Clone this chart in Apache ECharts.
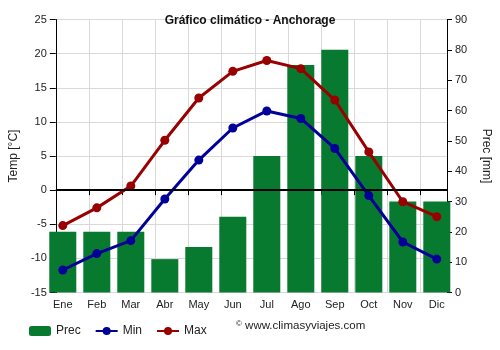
<!DOCTYPE html>
<html>
<head>
<meta charset="utf-8">
<script src="https://cdn.jsdelivr.net/npm/echarts@6/dist/echarts.min.js"></script>
<style>
  html, body { margin: 0; padding: 0; background: #fff; }
  #chart { width: 500px; height: 350px; }
</style>
</head>
<body>
<div id="chart"></div>
<script>
// Monthly climate data for Anchorage
const months = ['Ene', 'Feb', 'Mar', 'Abr', 'May', 'Jun', 'Jul', 'Ago', 'Sep', 'Oct', 'Nov', 'Dic'];
const precipitation = [20, 20, 20, 11, 15, 25, 45, 75, 80, 45, 30, 30];   // mm
const tempMin = [-11.7, -9.3, -7.4, -1.3, 4.4, 9.1, 11.6, 10.5, 6.1, -0.8, -7.6, -10.1]; // °C
const tempMax = [-5.2, -2.6, 0.6, 7.3, 13.5, 17.4, 19.0, 17.8, 13.2, 5.6, -1.7, -3.9];    // °C

const FONT = 'Liberation Sans, Arial, sans-serif';
const TXT = '#222';

const chart = echarts.init(document.getElementById('chart'), null, { renderer: 'canvas' });

const plotTop = 19.5, plotBottom = 57.5;

chart.setOption({
  animation: false,
  backgroundColor: '#fff',
  textStyle: { fontFamily: FONT },
  title: {
    text: 'Gráfico climático - Anchorage',
    left: 'center',
    top: 10,
    textStyle: { fontSize: 12, fontWeight: 'bold', color: '#111', fontFamily: FONT }
  },
  legend: {
    left: 24,
    top: 320,
    itemWidth: 22,
    itemHeight: 10,
    itemGap: 14,
    textStyle: { fontSize: 12, color: '#222', fontFamily: FONT },
    data: ['Prec', 'Min', 'Max']
  },
  graphic: [{
    type: 'text',
    left: 236,
    top: 320,
    style: {
      text: '{c|©} www.climasyviajes.com',
      rich: { c: { fontSize: 8, verticalAlign: 'top', fontFamily: FONT, fill: '#222' } },
      fontSize: 11.5,
      fontFamily: FONT,
      fill: '#222'
    }
  }],
  grid: [
    // frame: axes, ticks and grid lines
    { left: 49.3, right: 49.7, top: plotTop, bottom: plotBottom },
    // data: month slots, bars and lines
    { left: 45.8, right: 46.2, top: plotTop, bottom: plotBottom }
  ],
  xAxis: [
    {
      gridIndex: 0, type: 'value', min: 0, max: 401 / 34, interval: 1,
      axisLine: { show: true, lineStyle: { color: '#000', width: 1 } },
      axisTick: { show: true, length: 5, lineStyle: { color: '#000' } },
      axisLabel: { show: false },
      splitLine: { show: true, lineStyle: { color: '#d9d9d9', width: 1 } }
    },
    {
      gridIndex: 1, type: 'category', data: months, boundaryGap: true,
      axisLine: { show: false }, axisTick: { show: false },
      axisLabel: { margin: 7, fontSize: 11, color: TXT, fontFamily: FONT },
      splitLine: { show: false }
    }
  ],
  yAxis: [
    {
      gridIndex: 0, type: 'value', min: -15, max: 25, interval: 5,
      position: 'left',
      name: 'Temp [°C]', nameLocation: 'middle', nameGap: 34, nameRotate: 90,
      nameTextStyle: { fontSize: 12, color: TXT, fontFamily: FONT },
      axisLine: { show: true, lineStyle: { color: '#000' } },
      axisTick: { show: true, length: 6, lineStyle: { color: '#000' } },
      axisLabel: { margin: 9, fontSize: 11, color: TXT, fontFamily: FONT },
      splitLine: { show: true, lineStyle: { color: '#d9d9d9', width: 1 } }
    },
    {
      gridIndex: 0, type: 'value', min: 0, max: 90, interval: 10,
      position: 'right',
      name: 'Prec [mm]', nameLocation: 'middle', nameGap: 33, nameRotate: -90,
      nameTextStyle: { fontSize: 12, color: TXT, fontFamily: FONT },
      axisLine: { show: true, lineStyle: { color: '#000' } },
      axisTick: { show: true, length: 5, lineStyle: { color: '#000' } },
      axisLabel: { margin: 8, fontSize: 11, color: TXT, fontFamily: FONT },
      splitLine: { show: false }
    },
    { gridIndex: 1, type: 'value', min: -15, max: 25, interval: 5, show: false },
    { gridIndex: 1, type: 'value', min: 0, max: 90, interval: 10, show: false }
  ],
  series: [
    {
      name: 'Prec', type: 'bar', xAxisIndex: 1, yAxisIndex: 3,
      data: precipitation, barWidth: 27,
      itemStyle: { color: '#077a30' }, z: 2
    },
    {
      name: 'Min', type: 'line', xAxisIndex: 1, yAxisIndex: 2,
      data: tempMin, symbol: 'circle', symbolSize: 9,
      lineStyle: { color: '#000099', width: 3 },
      itemStyle: { color: '#000099' }, z: 4
    },
    {
      name: 'Max', type: 'line', xAxisIndex: 1, yAxisIndex: 2,
      data: tempMax, symbol: 'circle', symbolSize: 9,
      lineStyle: { color: '#990000', width: 3 },
      itemStyle: { color: '#990000' }, z: 4
    },
    {
      // freezing-point reference line across the frame
      type: 'line', xAxisIndex: 0, yAxisIndex: 0, data: [], z: 3,
      markLine: {
        silent: true, symbol: 'none', animation: false,
        label: { show: false },
        lineStyle: { color: '#000', width: 2, type: 'solid' },
        data: [{ yAxis: 0 }]
      }
    }
  ]
});
</script>
</body>
</html>
